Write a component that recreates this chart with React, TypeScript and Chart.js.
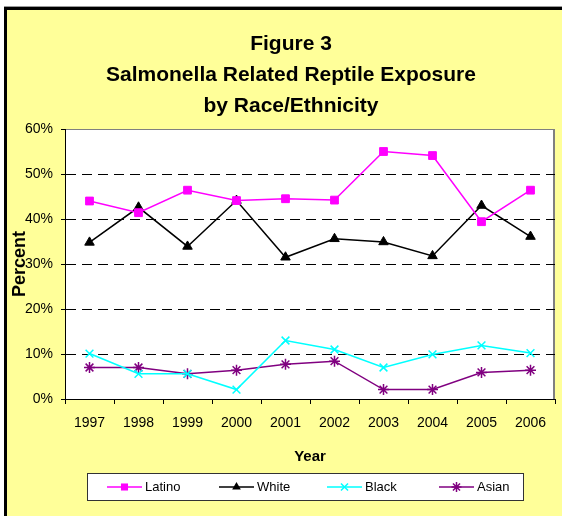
import { useEffect, useRef } from 'react';
import { Chart, registerables } from 'chart.js';

Chart.register(...registerables);

// Survey years (x categories)
const years = ['1997', '1998', '1999', '2000', '2001', '2002', '2003', '2004', '2005', '2006'];

// Percent reporting reptile exposure, by race/ethnicity
const latino = [44.0, 41.4, 46.4, 44.1, 44.5, 44.2, 55.0, 54.1, 39.4, 46.4];
const white = [34.8, 42.6, 33.9, 44.1, 31.5, 35.6, 34.9, 31.8, 43.0, 36.1];
const black = [10.1, 5.6, 5.6, 2.1, 13.0, 11.0, 7.0, 9.9, 11.9, 10.2];
const asian = [7.0, 7.0, 5.6, 6.4, 7.7, 8.4, 2.1, 2.1, 5.9, 6.4];

const seriesNames = ['Latino', 'White', 'Black', 'Asian'];
const seriesColors = ['#FF00FF', '#000000', '#00FFFF', '#800080'];
const seriesMarkers = ['rect', 'triangle', 'crossRot', 'star'];

const titleLines = ['Figure 3', 'Salmonella Related Reptile Exposure', 'by Race/Ethnicity'];
const yMin = 0;
const yMax = 60;
const yStep = 10;

const FONT = "'Liberation Sans', Arial, sans-serif";
const FRAME_BG = '#FFFF99';
const MARKER_R = 5.5;

function drawMarker(ctx: CanvasRenderingContext2D, style: string, x: number, y: number, r: number, color: string) {
  ctx.save();
  ctx.fillStyle = color;
  ctx.strokeStyle = color;
  ctx.lineWidth = 1.5;
  ctx.beginPath();
  const d = Math.SQRT1_2 * r;
  if (style === 'rect') {
    ctx.rect(x - d, y - d, 2 * d, 2 * d);
    ctx.fill();
  } else if (style === 'triangle') {
    let a = 0;
    ctx.moveTo(x + Math.sin(a) * r, y - Math.cos(a) * r);
    a += (2 * Math.PI) / 3;
    ctx.lineTo(x + Math.sin(a) * r, y - Math.cos(a) * r);
    a += (2 * Math.PI) / 3;
    ctx.lineTo(x + Math.sin(a) * r, y - Math.cos(a) * r);
    ctx.closePath();
    ctx.fill();
  } else {
    ctx.moveTo(x - d, y - d);
    ctx.lineTo(x + d, y + d);
    ctx.moveTo(x - d, y + d);
    ctx.lineTo(x + d, y - d);
    if (style === 'star') {
      ctx.moveTo(x, y - r);
      ctx.lineTo(x, y + r);
      ctx.moveTo(x - r, y);
      ctx.lineTo(x + r, y);
    }
    ctx.stroke();
  }
  ctx.restore();
}

// Yellow framed background, white plot panel and the chart heading
const framePlugin = {
  id: 'frame',
  beforeDraw(chart: Chart) {
    const { ctx, width, height, chartArea } = chart;
    ctx.save();
    ctx.fillStyle = '#FFFFFF';
    ctx.fillRect(0, 0, width, height);
    ctx.fillStyle = FRAME_BG;
    ctx.fillRect(7, 10, width - 7, height - 10);
    ctx.fillStyle = '#9a9a9a';
    ctx.fillRect(4, 6, width - 4, 1);
    ctx.fillStyle = '#000000';
    ctx.fillRect(4, 7, width - 4, 3);
    ctx.fillRect(4, 7, 3, height - 7);

    ctx.fillStyle = '#FFFFFF';
    ctx.fillRect(chartArea.left, chartArea.top, chartArea.right - chartArea.left, chartArea.bottom - chartArea.top);
    ctx.strokeStyle = '#808080';
    ctx.lineWidth = 1;
    ctx.beginPath();
    ctx.moveTo(chartArea.left, chartArea.top + 0.5);
    ctx.lineTo(chartArea.right, chartArea.top + 0.5);
    ctx.stroke();
    ctx.lineWidth = 2;
    ctx.beginPath();
    ctx.moveTo(chartArea.right - 1, chartArea.top);
    ctx.lineTo(chartArea.right - 1, chartArea.bottom);
    ctx.stroke();

    ctx.fillStyle = '#000000';
    ctx.font = `bold 21px ${FONT}`;
    ctx.textAlign = 'center';
    ctx.textBaseline = 'middle';
    titleLines.forEach((line, i) => {
      ctx.fillText(line, 291, 44 + i * 31);
    });
    ctx.restore();
  },
  afterDraw(chart: Chart) {
    const { ctx } = chart;
    const box = { x: 87.5, y: 473.5, w: 436, h: 27 };
    const cy = box.y + box.h / 2;
    ctx.save();
    ctx.fillStyle = '#FFFFFF';
    ctx.fillRect(box.x, box.y, box.w, box.h);
    ctx.strokeStyle = '#333333';
    ctx.lineWidth = 1;
    ctx.strokeRect(box.x, box.y, box.w, box.h);
    const starts = [107, 219, 327, 439];
    chart.data.datasets.forEach((ds, i) => {
      const x0 = starts[i];
      const color = seriesColors[i];
      ctx.strokeStyle = color;
      ctx.lineWidth = 1.5;
      ctx.beginPath();
      ctx.moveTo(x0, cy);
      ctx.lineTo(x0 + 35, cy);
      ctx.stroke();
      drawMarker(ctx, seriesMarkers[i], x0 + 17.5, cy, 5, color);
      ctx.fillStyle = '#000000';
      ctx.font = `13px ${FONT}`;
      ctx.textAlign = 'left';
      ctx.textBaseline = 'middle';
      ctx.fillText(String(ds.label), x0 + 38, cy);
    });
    ctx.restore();
  },
};

export default function App() {
  const canvasRef = useRef<HTMLCanvasElement | null>(null);

  useEffect(() => {
    const canvas = canvasRef.current;
    if (!canvas) return;
    Chart.defaults.font.family = FONT;
    Chart.defaults.color = '#000000';

    const values = [latino, white, black, asian];
    const chart = new Chart(canvas, {
      type: 'line',
      data: {
        labels: years,
        datasets: values.map((v, i) => ({
          label: seriesNames[i],
          data: v,
          borderColor: seriesColors[i],
          backgroundColor: seriesColors[i],
          borderWidth: 1.5,
          pointStyle: seriesMarkers[i] as any,
          pointRadius: MARKER_R,
          pointHoverRadius: MARKER_R,
          pointBackgroundColor: seriesColors[i],
          pointBorderColor: seriesColors[i],
          pointBorderWidth: i >= 2 ? 1.5 : 1,
          tension: 0,
          fill: false,
        })),
      },
      options: {
        responsive: false,
        animation: false,
        devicePixelRatio: 1,
        layout: { padding: { left: 0, right: 6, top: 129, bottom: 0 } },
        plugins: {
          legend: { display: false },
          title: { display: false },
          tooltip: { enabled: false },
        },
        scales: {
          x: {
            type: 'category',
            offset: true,
            grid: {
              offset: true,
              drawOnChartArea: false,
              drawTicks: true,
              tickLength: 5,
              tickColor: '#000000',
            },
            border: { display: true, color: '#000000', width: 1 },
            ticks: {
              font: { size: 14 },
              color: '#000000',
              padding: 11,
              maxRotation: 0,
              autoSkip: false,
            },
            title: {
              display: true,
              text: 'Year',
              font: { size: 15, weight: 'bold' },
              color: '#000000',
              padding: { top: 0, bottom: 50 },
            },
            afterFit(scale: any) {
              scale.height = 117;
            },
          },
          y: {
            min: yMin,
            max: yMax,
            grid: {
              color: (c: any) => (c.tick && (c.tick.value === yMin || c.tick.value === yMax) ? 'rgba(0,0,0,0)' : '#000000'),
              tickColor: '#000000',
              tickLength: 4,
              lineWidth: 1,
            },
            border: { display: true, color: '#000000', width: 1, dash: [10, 6] },
            ticks: {
              stepSize: yStep,
              font: { size: 14 },
              color: '#000000',
              padding: 8,
              callback: (v: any) => `${v}%`,
            },
            title: {
              display: true,
              text: 'Percent',
              font: { size: 18, weight: 'bold' },
              color: '#000000',
              padding: { top: 9, bottom: 0 },
            },
            afterFit(scale: any) {
              scale.width = 65;
            },
          },
        },
      },
      plugins: [framePlugin],
    });
    return () => chart.destroy();
  }, []);

  return (
    <div style={{ position: 'absolute', left: 0, top: 0, width: 562, height: 516 }}>
      <canvas ref={canvasRef} width={562} height={516} style={{ width: 562, height: 516, display: 'block' }} />
    </div>
  );
}
